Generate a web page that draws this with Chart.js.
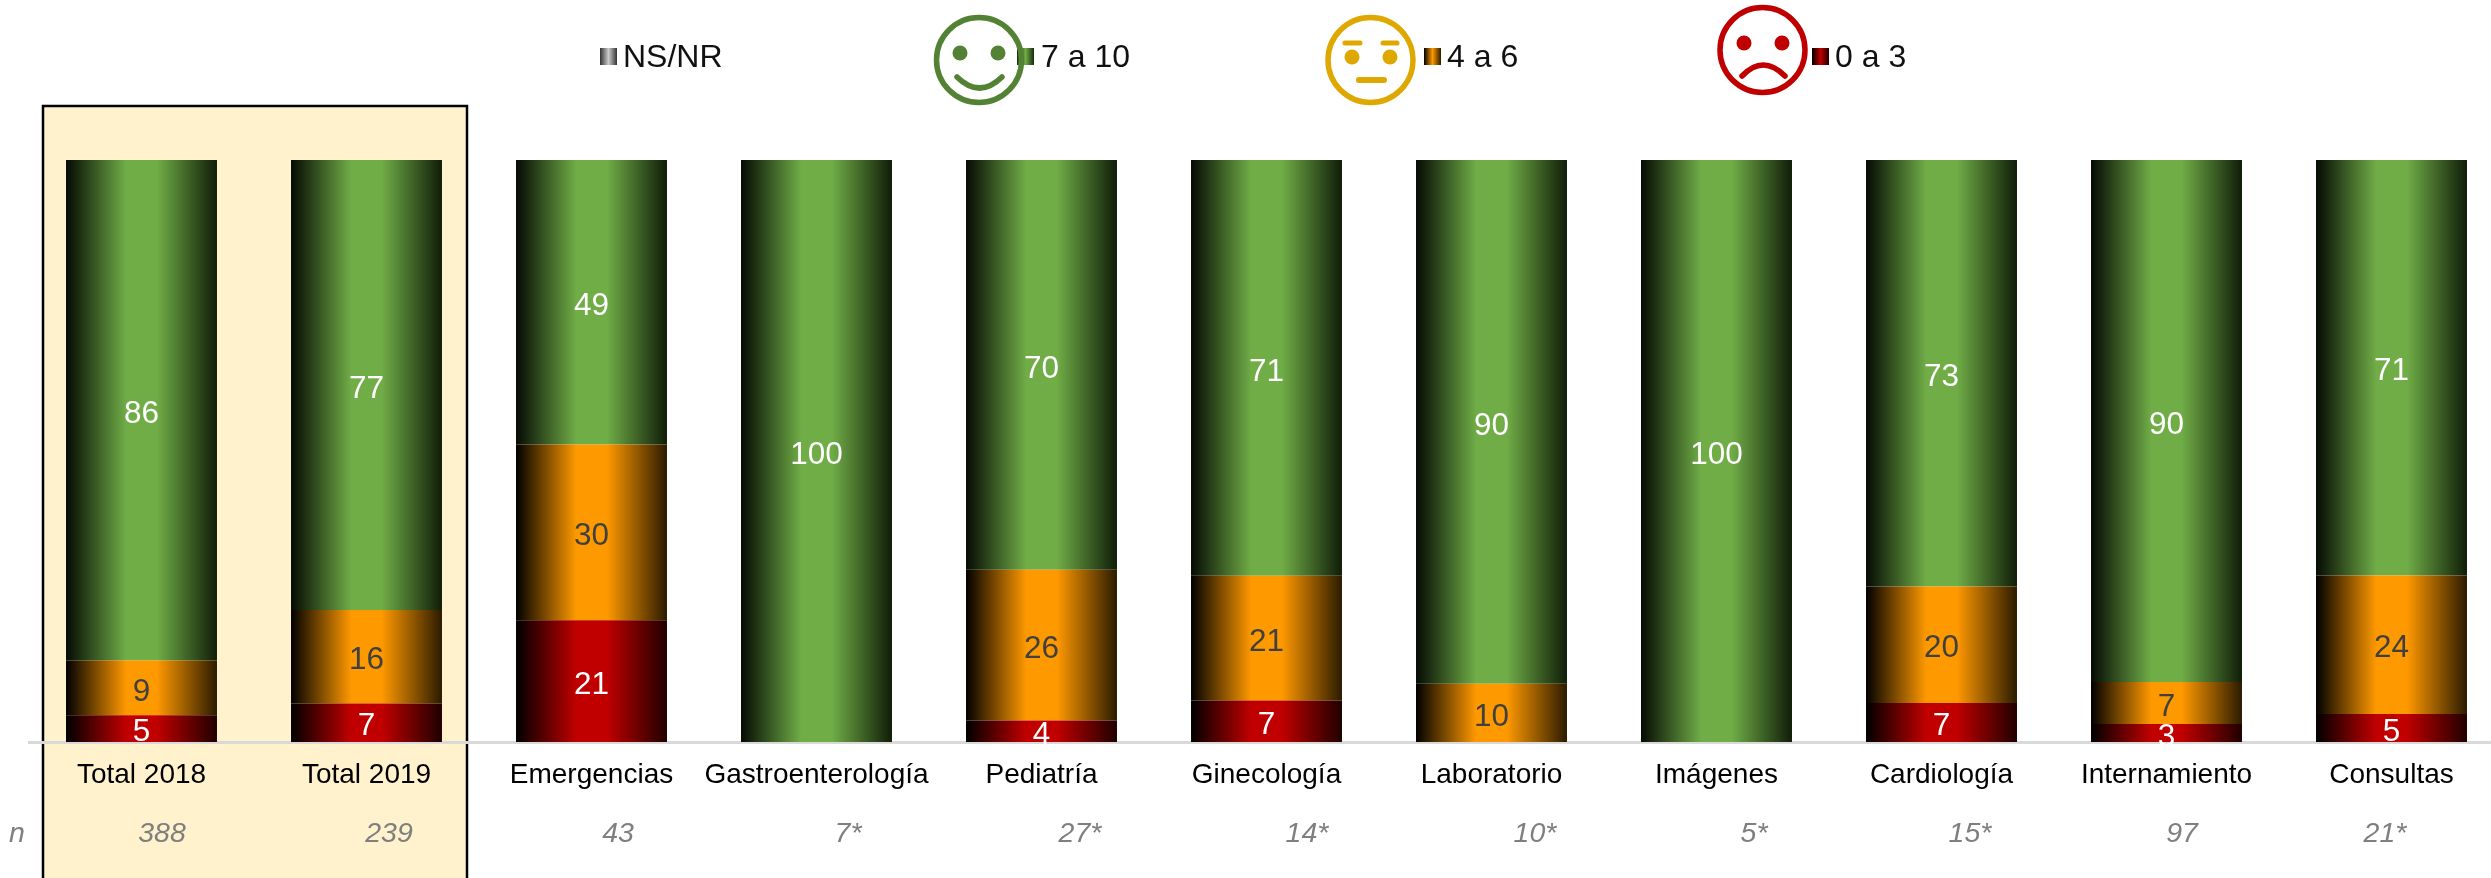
<!DOCTYPE html>
<html lang="es">
<head>
<meta charset="utf-8">
<title>Satisfacción por servicio</title>
<script src="https://cdn.jsdelivr.net/npm/chart.js@4"></script>
<style>
  html, body { margin: 0; padding: 0; width: 2491px; height: 878px; overflow: hidden; background: #fff; }
  body { position: relative; font-family: "Liberation Sans", Arial, sans-serif; }
  #grafico { position: absolute; left: 0; top: 0; }
  #caras { position: absolute; left: 0; top: 0; z-index: 2; }
  .ley { position: absolute; top: 37px; font-size: 32px; line-height: 38px; color: #111; white-space: nowrap; }
  .mue { position: absolute; top: 48px; width: 17px; height: 17px; }
</style>
</head>
<body>
<canvas id="grafico" width="2504" height="878" style="width:2504px;height:878px"></canvas>

<!-- caritas de la leyenda -->
<svg id="caras" width="2491" height="120" fill="none">
  <g stroke="#548235" stroke-width="5.5">
    <circle cx="979" cy="60" r="42.5"/>
    <path d="M957 77 Q979.5 99 1002 77" stroke-linecap="round"/>
  </g>
  <circle cx="960" cy="53" r="7.5" fill="#548235"/>
  <circle cx="998" cy="53" r="7.5" fill="#548235"/>

  <g stroke="#DFA800">
    <circle cx="1370.5" cy="60" r="42.5" stroke-width="5.5"/>
    <path d="M1345 43H1360M1383 43H1397" stroke-width="5" stroke-linecap="round"/>
    <path d="M1359 80H1384" stroke-width="6" stroke-linecap="round"/>
  </g>
  <circle cx="1352" cy="57" r="7.5" fill="#DFA800"/>
  <circle cx="1390" cy="57" r="7.5" fill="#DFA800"/>

  <g stroke="#C00000" stroke-width="5.5">
    <circle cx="1762.5" cy="50" r="42.5"/>
    <path d="M1742 76 Q1763 54 1785 76" stroke-linecap="round"/>
  </g>
  <circle cx="1744" cy="43" r="7.5" fill="#C00000"/>
  <circle cx="1782" cy="43" r="7.5" fill="#C00000"/>
</svg>

<script>
// Datos (% por servicio)
const categorias = ["Total 2018", "Total 2019", "Emergencias", "Gastroenterología", "Pediatría",
  "Ginecología", "Laboratorio", "Imágenes", "Cardiología", "Internamiento", "Consultas"];
const muestra = ["388", "239", "43", "7*", "27*", "14*", "10*", "5*", "15*", "97", "21*"];

const bajo  = [4.6, 6.6, 20.9, 0, 3.7, 7.14, 0, 0, 6.7, 3.1, 4.8];
const medio = [9.4, 16.1, 30.2, 0, 25.9, 21.43, 10, 0, 20, 7.2, 23.8];
const alto  = [86, 77.3, 48.9, 100, 70.4, 71.43, 90, 100, 73.3, 89.7, 71.4];
const nsnr  = [0, 0, 0, 0, 0, 0, 0, 0, 0, 0, 0];

const etiquetas = { nsnr: "NS/NR", alto: "7 a 10", medio: "4 a 6", bajo: "0 a 3" };

// Posicion de los textos sueltos, no son datos
const xMuestra = [162, 389, 618, 848, 1080, 1307, 1535, 1754, 1970, 2182, 2385];
const anchoBarra = 0.671;

function degradado(color, izq, der) {
  return (ctx) => {
    const chart = ctx.chart;
    if (!chart.chartArea || ctx.dataIndex === undefined) return color;
    const esc = chart.scales.x;
    const ancho = esc.width / categorias.length * anchoBarra;
    const cx = esc.getPixelForValue(ctx.dataIndex);
    const g = chart.ctx.createLinearGradient(cx - ancho / 2, 0, cx + ancho / 2, 0);
    g.addColorStop(0, izq);
    g.addColorStop(0.4, color);
    g.addColorStop(0.6, color);
    g.addColorStop(1, der);
    return g;
  };
}

// Recuadro de los totales, detras de todo
const recuadro = {
  id: "recuadro",
  beforeDraw(chart) {
    const c = chart.ctx;
    c.save();
    c.fillStyle = "#FFF2CC";
    c.fillRect(43, 106, 424, 780);
    c.strokeStyle = "#000";
    c.lineWidth = 2.5;
    c.strokeRect(43, 106, 424, 780);
    c.restore();
  }
};

// Valores dentro de cada segmento y fila n
const textos = {
  id: "textos",
  afterDraw(chart) {
    const c = chart.ctx;
    c.save();
    c.textAlign = "center";
    c.textBaseline = "middle";
    c.font = '31.5px "Liberation Sans", Arial, sans-serif';
    chart.data.datasets.forEach((ds, i) => {
      chart.getDatasetMeta(i).data.forEach((barra, j) => {
        const v = Math.round(ds.data[j]);
        if (!v) return;
        c.fillStyle = ds.colorTexto;
        c.fillText(v, barra.x, (barra.y + barra.base) / 2 + 4);
      });
    });
    c.font = 'italic 28.5px "Liberation Sans", Arial, sans-serif';
    c.fillStyle = "#7F7F7F";
    c.fillText("n", 17, 834);
    muestra.forEach((m, i) => c.fillText(m, xMuestra[i], 834));
    c.restore();
  }
};

const grafico = new Chart(document.getElementById("grafico"), {
  type: "bar",
  data: {
    labels: categorias,
    datasets: [
      { label: etiquetas.bajo, data: bajo, backgroundColor: degradado("#C00000", "#000000", "#200000"), colorTexto: "#fff" },
      { label: etiquetas.medio, data: medio, backgroundColor: degradado("#FF9900", "#000000", "#2B1B00"), colorTexto: "#404040" },
      { label: etiquetas.alto, data: alto, backgroundColor: degradado("#70AD47", "#050A03", "#101D08"), colorTexto: "#fff" },
      { label: etiquetas.nsnr, data: nsnr, backgroundColor: "#A6A6A6", colorTexto: "#404040" }
    ]
  },
  options: {
    responsive: false,
    animation: false,
    devicePixelRatio: 1,
    layout: { padding: { left: 29, right: 0, top: 160, bottom: 0 } },
    plugins: { legend: { display: false }, tooltip: { enabled: false } },
    datasets: { bar: { categoryPercentage: 1, barPercentage: anchoBarra } },
    scales: {
      x: {
        stacked: true,
        afterFit(esc) { esc.height = 136; },
        grid: { display: false },
        border: { color: "#D9D9D9", width: 3 },
        ticks: {
          color: "#000",
          padding: 8,
          autoSkip: false,
          maxRotation: 0,
          font: { family: '"Liberation Sans", Arial, sans-serif', size: 28 }
        }
      },
      y: { stacked: true, display: false, min: 0, max: 100 }
    }
  },
  plugins: [recuadro, textos]
});

// Leyenda a mano porque va repartida entre las caritas
const leyenda = [
  { texto: etiquetas.nsnr, xm: 600, xt: 623, fondo: "linear-gradient(90deg,#333,#ccc 50%,#333)" },
  { texto: etiquetas.alto, xm: 1017, xt: 1041, fondo: "linear-gradient(90deg,#1a2a10,#70AD47 50%,#1a2a10)" },
  { texto: etiquetas.medio, xm: 1424, xt: 1447, fondo: "linear-gradient(90deg,#000,#FF9900 50%,#2B1B00)" },
  { texto: etiquetas.bajo, xm: 1812, xt: 1835, fondo: "linear-gradient(90deg,#000,#C00000 50%,#200000)" }
];
leyenda.forEach((l) => {
  const m = document.createElement("div");
  m.className = "mue";
  m.style.left = l.xm + "px";
  m.style.background = l.fondo;
  document.body.appendChild(m);
  const t = document.createElement("div");
  t.className = "ley";
  t.style.left = l.xt + "px";
  t.textContent = l.texto;
  document.body.appendChild(t);
});
</script>
</body>
</html>
